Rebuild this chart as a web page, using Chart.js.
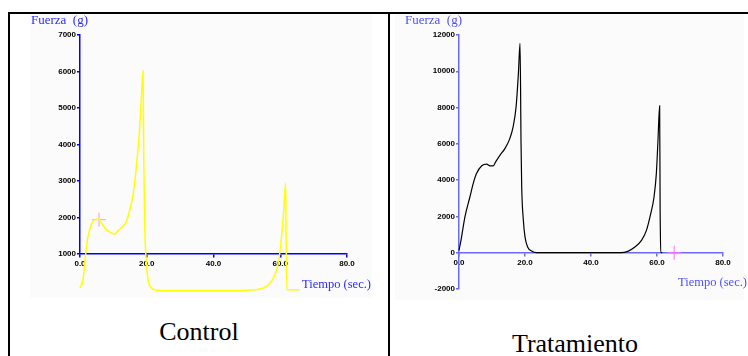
<!DOCTYPE html>
<html>
<head>
<meta charset="utf-8">
<script src="https://cdn.jsdelivr.net/npm/chart.js@4"></script>
<style>
    body { margin: 0; background: #fff; }
    #page { position: relative; width: 748px; height: 356px; overflow: hidden; }
    .line { position: absolute; background: #000; }
    .panel { position: absolute; background: #fbfbfb; }
    canvas { position: absolute; }
    .axisTitle { position: absolute; font-family: "Liberation Serif", serif; white-space: pre; }
    .caption { position: absolute; font-family: "Liberation Serif", serif; font-size: 26px; line-height: 26px; color: #000; text-align: center; width: 300px; }
</style>
</head>
<body>
<div id="page">
    <div class="panel" style="left:30px; top:14px; width:342px; height:284px;"></div>
    <div class="panel" style="left:395px; top:14px; width:349px; height:286px;"></div>

    <div class="line" style="left:8px; top:12px; width:740px; height:2px;"></div>
    <div class="line" style="left:8px; top:12px; width:2px; height:344px;"></div>
    <div class="line" style="left:388px; top:12px; width:2px; height:344px;"></div>

    <canvas id="controlChart" width="378" height="300" style="left:10px; top:14px;"></canvas>
    <canvas id="treatmentChart" width="357" height="300" style="left:391px; top:14px;"></canvas>

    <div class="axisTitle" style="left:31px; top:13px; font-size:13px; line-height:13px; color:#2a2aff;">Fuerza  (g)</div>
    <div class="axisTitle" style="left:302px; top:278px; font-size:12.5px; line-height:12.5px; color:#2a2aff;">Tiempo (sec.)</div>
    <div class="axisTitle" style="left:405px; top:13px; font-size:13px; line-height:13px; color:#5050ff;">Fuerza  (g)</div>
    <div class="axisTitle" style="left:678px; top:276px; font-size:12.5px; line-height:12.5px; color:#5050ff;">Tiempo (sec.)</div>

    <div class="caption" style="left:49px; top:319px;">Control</div>
    <div class="caption" style="left:425px; top:331px;">Tratamiento</div>
</div>

<script>
'use strict'

// Control: time (s) and force (g).
const controlTime = [0, 0.9, 1.7, 2.4, 3.4, 4.4, 5.6, 6.4, 7.9, 9.4, 10.4, 11.4, 12.9, 13.9, 14.9, 15.9, 16.9, 17.9, 18.4, 18.9, 19.1, 19.4, 19.9, 20.4, 21.4, 22.9, 30, 40, 50, 53.8, 55.8, 57.3, 58.6, 59.6, 60.3, 61.0, 61.6, 61.75, 62.0, 65.8];
const controlForce = [70, 300, 1000, 1480, 1800, 1940, 1960, 1850, 1670, 1575, 1550, 1640, 1760, 1890, 2210, 2620, 3400, 4490, 5310, 6020, 3580, 1760, 750, 300, 70, 10, 0, 0, 10, 40, 115, 250, 480, 845, 1390, 2120, 2940, 1500, 20, 20];
const controlMarker = [5.7, 1940];

// Tratamiento: time (s) and force (g).
const treatmentTime = [0, 0.6, 1.8, 3.3, 4.3, 5.3, 6.9, 8.4, 9.4, 10.4, 11.1, 12.4, 13.9, 15.4, 16.4, 17.3, 18.0, 18.5, 18.8, 19.0, 19.5, 20.0, 20.8, 22.0, 23.5, 35, 49, 51.3, 53.3, 55.3, 56.8, 58.1, 59.1, 59.8, 60.3, 60.8, 60.95, 61.3, 61.6];
const treatmentForce = [130, 680, 1970, 3070, 3810, 4360, 4790, 4880, 4790, 4790, 5010, 5370, 5740, 6290, 6940, 8040, 9880, 11540, 6020, 3630, 1790, 870, 310, 90, 0, 0, 0, 90, 310, 680, 1230, 2150, 3070, 4360, 6200, 8100, 2340, 0, 0];
const treatmentMarker = [65.2, 0];

// Axis ranges and tick steps.
const timeTicks = [0, 80, 20];
const controlTicks = [1000, 7000, 1000];
const treatmentTicks = [-2000, 12000, 2000];

window.onload = function() {
    printChart('controlChart', controlTime, controlForce, controlMarker, controlTicks, {
        lineColor: '#ffff00',
        lineWidth: 1.5,
        markerColor: '#f4a0c8',
        axisColor: '#0000ff',
        axisAt: 1000,
        yWidth: 70,
        padding: {top: 21, right: 41, bottom: 60, left: 0}
    });
    printChart('treatmentChart', treatmentTime, treatmentForce, treatmentMarker, treatmentTicks, {
        lineColor: '#000000',
        lineWidth: 1.2,
        markerColor: '#ff70ff',
        axisColor: '#6a6aff',
        axisAt: 0,
        yWidth: 68,
        padding: {top: 21, right: 25, bottom: 25, left: 0}
    });
}

/**
 * Builds x/y point objects from two arrays.
 */
function toPoints(xs, ys) {
    return xs.map((x, i) => ({x: x, y: ys[i]}));
}

/**
 * Draws one force / time trace with its own axes.
 */
function printChart(id, time, force, marker, yTicks, style) {
    const ctx = document.getElementById(id).getContext('2d');
    const tickFont = {family: 'Liberation Sans', size: 8, weight: 'bold'};

    new Chart(ctx, {
        type: 'line',
        data: {
            datasets: [{
                data: toPoints(time, force),
                borderColor: style.lineColor,
                borderWidth: style.lineWidth,
                pointRadius: 0,
                cubicInterpolationMode: 'monotone',
                clip: false
            }, {
                data: [{x: marker[0], y: marker[1]}],
                showLine: false,
                pointStyle: 'cross',
                pointRadius: 7,
                pointBorderWidth: 1,
                pointBorderColor: style.markerColor,
                clip: false
            }]
        },
        options: {
            responsive: false,
            animation: false,
            layout: {padding: style.padding},
            plugins: {
                legend: {display: false},
                tooltip: {enabled: false}
            },
            scales: {
                x: {
                    type: 'linear',
                    position: {y: style.axisAt},
                    min: timeTicks[0],
                    max: timeTicks[1],
                    ticks: {
                        stepSize: timeTicks[2],
                        color: '#000',
                        font: tickFont,
                        padding: 2,
                        maxRotation: 0,
                        callback: (v) => v.toFixed(1)
                    },
                    grid: {drawOnChartArea: false, tickLength: 3, color: style.axisColor, lineWidth: 1.5},
                    border: {color: style.axisColor, width: 1.5}
                },
                y: {
                    min: yTicks[0],
                    max: yTicks[1],
                    afterFit: (scale) => { scale.width = style.yWidth; },
                    ticks: {
                        stepSize: yTicks[2],
                        color: '#000',
                        font: tickFont,
                        padding: 1,
                        callback: (v) => String(v)
                    },
                    grid: {drawOnChartArea: false, tickLength: 3, color: style.axisColor, lineWidth: 1.5},
                    border: {color: style.axisColor, width: 1.5}
                }
            }
        }
    });
}
</script>
</body>
</html>
